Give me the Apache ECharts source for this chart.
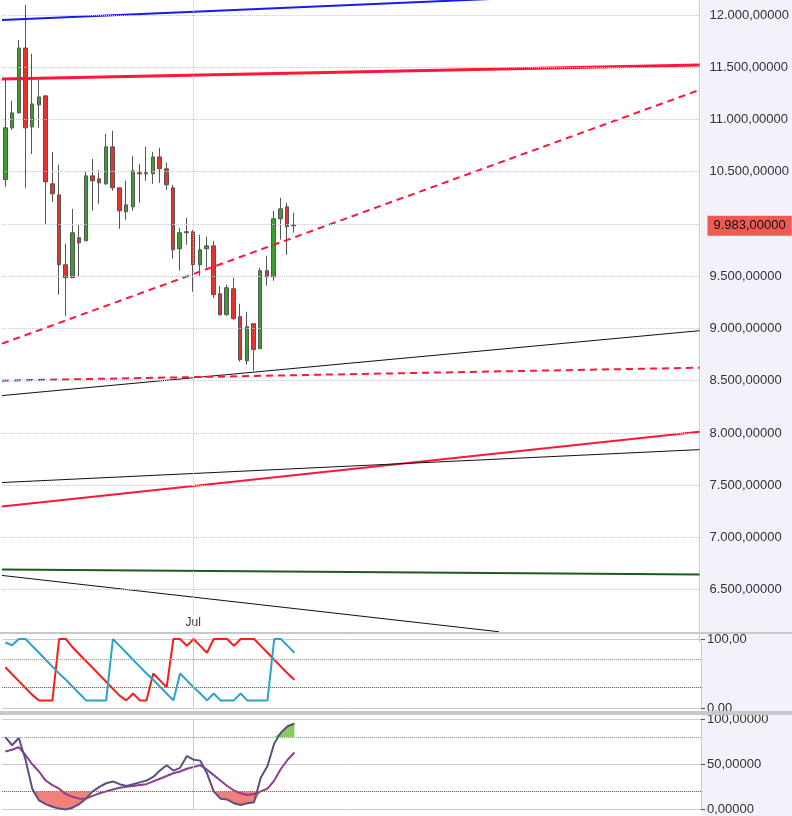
<!DOCTYPE html>
<html><head><meta charset="utf-8">
<script src="https://cdn.jsdelivr.net/npm/echarts@6/dist/echarts.min.js"></script>
<style>html,body{margin:0;padding:0;background:#fff}#c{width:792px;height:816px}</style>
</head><body><div id="c"></div>
<script>
// candles: [open, close, low, high]
const candles = [
[10425,10920,10355,11380],[10920,11063,10901,11178],[11063,11684,11063,11761],[11684,10920,10346,12096],
[10929,11149,10671,11627],[11140,11216,10920,11379],[11226,10403,10002,11226],[10384,10289,10212,10690],
[10279,9610,9323,10566],[9610,9486,9122,9811],[9486,9916,9486,10145],[9868,9820,9495,9992],
[9839,10461,9839,10499],[10461,10413,10126,10623],[10432,10394,10193,10518],[10384,10738,10375,10862],
[10738,10346,10318,10891],[10346,10126,9954,10346],[10117,10183,10040,10413],[10164,10509,10126,10652],
[10490,10480,10203,10576],[10490,10480,10413,10738],[10480,10642,10384,10690],[10642,10528,10394,10729],
[10528,10375,10327,10585],[10346,9753,9667,10375],[9763,9916,9552,9963],[9916,9926,9801,10059],
[9926,9610,9352,9944],[9610,9753,9505,9896],[9763,9791,9581,9878],[9791,9323,9294,9839],
[9333,9132,9122,9409],[9132,9390,9122,9419],[9380,9094,9084,9486],[9113,8702,8683,9237],
[8692,9017,8654,9160],[9046,8798,8597,9046],[8807,9553,8807,9581],[9553,9495,9409,9696],
[9495,10050,9457,10126],[10050,10145,9849,10250],[10164,9973,9705,10203],[9990,9983,9916,10107]
];
const aroonUp = [59,49,39,29,19,11,11,11,100,100,88,78,68,58,48,38,28,18,11,21,11,11,50,40,30,100,100,90,100,90,80,100,100,100,90,100,100,100,90,80,70,60,50,41];
const aroonDown = [95,91,100,100,90,80,70,60,50,41,31,21,11,11,11,11,100,90,80,70,60,50,41,31,21,11,50,40,30,21,11,21,11,11,11,21,11,11,11,11,100,100,90,80];
const stochK = [80,71,79,55,23,10,6,3,1,0,2,6,12,20,25,29,31,28,26,28,30,32,36,43,49,43,46,59,55,54,40,20,12,11,7,5,7,8,35,48,73,85,92,95];
const stochD = [64,66,69,60,50,42,32,27,23,17,14,12,12,15,18,20,22,24,25,26,27,28,31,34,37,40,42,45,47,49,44,38,32,26,21,18,16,17,20,23,32,45,55,63];
const priceTicks = [6500,7000,7500,8000,8500,9000,9500,10000,10500,11000,11500,12000];
const lastPrice = 9983;
const trendLines = [
 {name:'blue', pts:[[-0.5,11952],[103.5,12239]], color:'#1a1aee', w:2, type:'solid'},
 {name:'redTop', pts:[[-0.5,11388],[103.5,11522]], color:'#ff1638', w:3, type:'solid'},
 {name:'redDashUp', pts:[[-0.5,8855],[103.5,11283]], color:'#ff1638', w:2, type:[7,5]},
 {name:'black1', pts:[[-0.5,8358],[103.5,8979]], color:'#111', w:1, type:'solid'},
 {name:'redDashFlat', pts:[[-0.5,8501],[103.5,8625]], color:'#ff1638', w:2, type:[7,5]},
 {name:'redLow', pts:[[-0.5,7297],[103.5,8013]], color:'#ff1638', w:2, type:'solid'},
 {name:'black2', pts:[[-0.5,7526],[103.5,7841]], color:'#111', w:1, type:'solid'},
 {name:'green', pts:[[-0.5,6694],[103.5,6646]], color:'#1d5a1d', w:2, type:'solid'},
 {name:'black3', pts:[[-0.5,6637],[73.6,6098]], color:'#111', w:1, type:'solid'}
];
const N = 104, julIndex = 28;
const cats = Array.from({length:N}, (_, i) => i === julIndex ? 'Jul' : 'd' + i);

function fmt(v, d) {
  const s = Math.abs(v).toFixed(d).split('.');
  const ip = s[0].replace(/\B(?=(\d{3})+(?!\d))/g, '.');
  return (v < 0 ? '-' : '') + ip + (d ? ',' + s[1] : '');
}
const lowBase = stochK.map(v => Math.min(v, 20));
const lowBand = stochK.map(v => 20 - Math.min(v, 20));
const highBand = stochK.map(v => Math.max(v, 80) - 80);
const highBase = stochK.map(() => 80);

const L = 2, R = 91;
const chart = echarts.init(document.getElementById('c'));
const julLine = (c, t) => ({xAxis: 'Jul', lineStyle:{color:c, type:t, width:1}, label:{show:false}});
const labelStyle = {color:'#333', fontFamily:'Liberation Sans, Arial', fontSize:13};
const series = [
 {type:'candlestick', xAxisIndex:0, yAxisIndex:0, data:candles, barWidth:4,
  itemStyle:{color:'#3aa02c', color0:'#e8322e', borderColor:'#555', borderColor0:'#555', borderWidth:1},
  markLine:{silent:true, symbol:'none', animation:false,
   data:[...priceTicks.map(v => ({yAxis:v, lineStyle:{color:'#c8c8d4', type:'dotted', width:1}, label:{show:false}})),
    julLine('#c8c8d4','dotted'),
    {yAxis:lastPrice, lineStyle:{color:'rgba(0,0,0,0)', width:1}, label:{show:true, position:'end', formatter:fmt(lastPrice,5),
      backgroundColor:'#f05a55', color:'#111', fontSize:13, fontFamily:'Liberation Sans, Arial', padding:[4,6,3,6], distance:8}}]}},
 ...trendLines.map(t => ({type:'line', xAxisIndex:1, yAxisIndex:0, data:t.pts, symbol:'none', z:3,
   lineStyle:{color:t.color, width:t.w, type:t.type}, animation:false})),
 {type:'line', xAxisIndex:2, yAxisIndex:1, data:aroonUp, symbol:'none', lineStyle:{color:'#ff1a1a', width:2}, clip:false,
  markLine:{silent:true, symbol:'none', label:{show:false}, data:[
   {yAxis:70, lineStyle:{color:'#7cbf4a', type:'dotted', width:1}},
   {yAxis:30, lineStyle:{color:'#f04040', type:'dotted', width:1}}, julLine('#ccc','solid')]}},
 {type:'line', xAxisIndex:2, yAxisIndex:1, data:aroonDown, symbol:'none', lineStyle:{color:'#2aa2cc', width:2}, clip:false},
 {type:'line', xAxisIndex:3, yAxisIndex:2, data:lowBase, stack:'lo', symbol:'none', lineStyle:{opacity:0}},
 {type:'line', xAxisIndex:3, yAxisIndex:2, data:lowBand, stack:'lo', symbol:'none', lineStyle:{opacity:0}, areaStyle:{color:'#f08078', opacity:1}},
 {type:'line', xAxisIndex:3, yAxisIndex:2, data:highBase, stack:'hi', symbol:'none', lineStyle:{opacity:0}},
 {type:'line', xAxisIndex:3, yAxisIndex:2, data:highBand, stack:'hi', symbol:'none', lineStyle:{opacity:0}, areaStyle:{color:'#86cc5e', opacity:1}},
 {type:'line', xAxisIndex:3, yAxisIndex:2, data:stochD, symbol:'none', lineStyle:{color:'#8c3f8e', width:2}, clip:false, z:4},
 {type:'line', xAxisIndex:3, yAxisIndex:2, data:stochK, symbol:'none', lineStyle:{color:'#5c5080', width:2}, clip:false, z:5,
  markLine:{silent:true, symbol:'none', label:{show:false}, data:[
   {yAxis:80, lineStyle:{color:'#7cbf4a', type:'dotted', width:1}},
   {yAxis:20, lineStyle:{color:'#f04040', type:'dotted', width:1}}, julLine('#ccc','solid')]}}
];
const yLine = {show:true, onZero:false, lineStyle:{color:'#ccc'}};
chart.setOption({
 animation:false,
 backgroundColor:'#fff',
 graphic:[
  {type:'rect', z:-10, shape:{x:701, y:0, width:91, height:816}, style:{fill:'#f3f1f9'}},
  {type:'rect', z:10, shape:{x:0, y:632, width:792, height:2}, style:{fill:'#c8c8c8'}},
  {type:'rect', z:10, shape:{x:0, y:711, width:792, height:4}, style:{fill:'#c8c8c8'}}
 ],
 grid:[
  {left:L, right:R, top:0, height:642},
  {left:L, right:R, top:639, height:69},
  {left:L, right:R, top:719, height:91}
 ],
 xAxis:[
  {type:'category', gridIndex:0, data:cats, boundaryGap:true, axisLine:{show:false}, axisTick:{show:false},
   axisLabel:{inside:true, interval:(i) => i === julIndex, margin:13, ...labelStyle, fontSize:12}, splitLine:{show:false}},
  {type:'value', gridIndex:0, min:-0.5, max:103.5, show:false, splitLine:{show:false}},
  {type:'category', gridIndex:1, data:cats, axisLine:{show:false}, axisTick:{show:false}, axisLabel:{show:false}, splitLine:{show:false}},
  {type:'category', gridIndex:2, data:cats, axisLine:{show:false}, axisTick:{show:false}, axisLabel:{show:false}, splitLine:{show:false}}
 ],
 yAxis:[
  {type:'value', gridIndex:0, position:'right', min:6000, max:12143.4, interval:500, splitLine:{show:false},
   axisLine:yLine, axisTick:{show:false},
   axisLabel:{...labelStyle, margin:10, formatter:(v) => (v < 6500 || v > 12000) ? '' : fmt(v,5)}},
  {type:'value', gridIndex:1, position:'right', min:0, max:100, interval:100,
   splitLine:{lineStyle:{color:'#ccc'}}, axisLine:yLine,
   axisTick:{show:true, length:4, lineStyle:{color:'#555'}}, axisLabel:{...labelStyle, margin:6, formatter:(v) => fmt(v,2)}},
  {type:'value', gridIndex:2, position:'right', min:0, max:100, interval:50,
   splitLine:{lineStyle:{color:'#ccc'}}, axisLine:yLine,
   axisTick:{show:true, length:4, lineStyle:{color:'#555'}}, axisLabel:{...labelStyle, margin:6, formatter:(v) => fmt(v,5)}}
 ],
 series
});
</script></body></html>
